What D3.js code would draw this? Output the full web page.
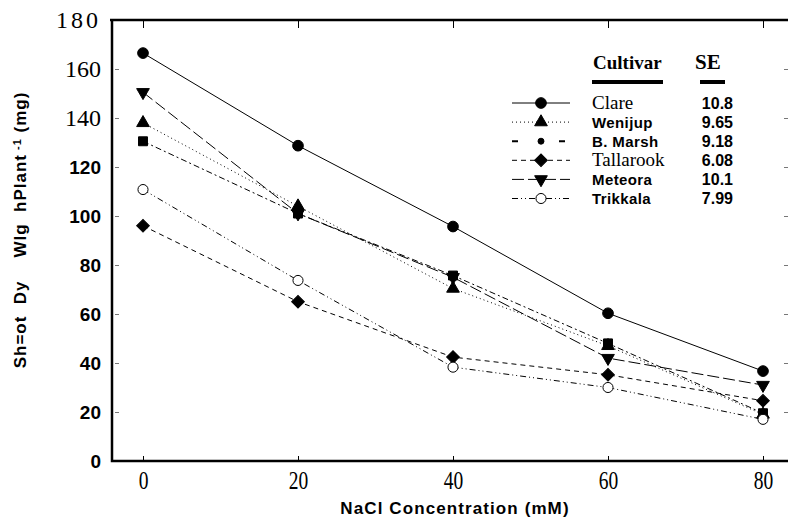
<!DOCTYPE html>
<html>
<head>
<meta charset="utf-8">
<script src="https://cdn.jsdelivr.net/npm/d3@7"></script>
<style>
  body { margin: 0; background: #fff; }
  svg { display: block; }
</style>
</head>
<body>
<script>
(function () {

    //chart data
    var nacl = [0, 20, 40, 60, 80]; //NaCl concentration (mM)
    var cultivars = ["Clare", "Wenijup", "B. Marsh", "Tallarook", "Meteora", "Trikkala"];
    var seValues = ["10.8", "9.65", "9.18", "6.08", "10.1", "7.99"];
    var clare = [166.5, 128.7, 95.7, 60.3, 36.7];
    var wenijup = [138, 104, 70.4, 47, 19];
    var bMarsh = [130.5, 101, 75.7, 48, 19.5];
    var tallarook = [96, 65, 42.4, 35.2, 24.6];
    var meteora = [150.5, 101, 75, 42, 31];
    var trikkala = [110.8, 73.7, 38.3, 30, 17];
    var yTicks = [0, 20, 40, 60, 80, 100, 120, 140, 160, 180];
    var serifTicks = [140, 160, 180]; //these labels are set in a serif face

    var seriesValues = [clare, wenijup, bMarsh, tallarook, meteora, trikkala];

    //frame dimensions
    var width = 788,
        height = 523;

    var svg = d3.select("body")
        .append("svg")
        .attr("width", width)
        .attr("height", height);

    //scales
    var x = d3.scaleLinear()
        .domain([0, 80])
        .range([143, 763]);

    var y = d3.scaleLinear()
        .domain([0, 180])
        .range([461, 20]);

    var left = 112, right = 790;

    //line styles and marker per cultivar
    var dashes = ["none", "1,3", "6,3,2,3", "5,4", "12,4", "6,3,1,3,1,3"];
    var symbols = [
        { type: d3.symbolCircle, size: 90, rot: 0, fill: "#000" },
        { type: d3.symbolTriangle, size: 70, rot: 0, fill: "#000" },
        { type: d3.symbolSquare, size: 80, rot: 0, fill: "#000" },
        { type: d3.symbolSquare, size: 80, rot: 45, fill: "#000" },
        { type: d3.symbolTriangle, size: 70, rot: 180, fill: "#000" },
        { type: d3.symbolCircle, size: 80, rot: 0, fill: "#fff" }
    ];
    //the key of the original shows a small dot for B. Marsh
    var keySymbols = symbols.slice();
    keySymbols[2] = { type: d3.symbolCircle, size: 28, rot: 0, fill: "#000" };
    var keyDashes = dashes.slice();
    keyDashes[2] = "6,41,6";

    var series = cultivars.map(function (name, i) {
        return {
            name: name,
            se: seValues[i],
            values: seriesValues[i].map(function (v, j) { return { x: nacl[j], y: v }; }),
            dash: dashes[i],
            sym: symbols[i],
            keySym: keySymbols[i],
            keyDash: keyDashes[i]
        };
    });

    //axes: left, bottom, top, right
    var yAxis = d3.axisLeft(y)
        .tickValues(yTicks)
        .tickSize(-4)
        .tickPadding(11)
        .tickFormat(d3.format("d"));

    var gy = svg.append("g")
        .attr("transform", "translate(" + left + ",0)")
        .call(yAxis);

    gy.select(".domain").remove();
    gy.selectAll(".tick line").attr("stroke", "#777").attr("transform", "translate(3,0)");
    gy.selectAll(".tick text")
        .attr("fill", "#000")
        .style("font-family", function (d) {
            return serifTicks.indexOf(d) >= 0 ? "'Liberation Serif', 'Times New Roman', serif" : "'Liberation Sans', Arial, sans-serif";
        })
        .style("font-weight", function (d) { return serifTicks.indexOf(d) >= 0 ? "normal" : "bold"; })
        .style("font-size", function (d) { return serifTicks.indexOf(d) >= 0 ? "24px" : "19px"; })
        .style("letter-spacing", function (d) { return d === 180 ? "3px" : "0px"; });

    var xAxis = d3.axisBottom(x)
        .tickValues(nacl)
        .tickSize(-5)
        .tickPadding(10)
        .tickFormat(d3.format("d"));

    var gx = svg.append("g")
        .attr("transform", "translate(0," + y(0) + ")")
        .call(xAxis);

    gx.select(".domain").remove();
    gx.selectAll(".tick line").attr("stroke", "#000");
    gx.selectAll(".tick text")
        .attr("fill", "#000")
        .attr("transform", "scale(0.78,1)")
        .style("font-family", "'Liberation Serif', 'Times New Roman', serif")
        .style("font-size", "25px");

    //top and right inner ticks
    svg.append("g")
        .attr("transform", "translate(0," + y(180) + ")")
        .call(d3.axisTop(x).tickValues(nacl).tickSize(-8).tickFormat(""))
        .call(function (g) { g.select(".domain").remove(); });

    svg.append("g")
        .attr("transform", "translate(" + (right - 2) + ",0)")
        .call(d3.axisRight(y).tickValues(yTicks).tickSize(-4).tickFormat(""))
        .call(function (g) {
            g.select(".domain").remove();
            g.selectAll("line").attr("stroke", "#777");
        });

    //frame
    svg.append("path")
        .attr("d", "M" + left + "," + y(180) + "V" + y(0) + "H" + right)
        .attr("fill", "none")
        .attr("stroke", "#000")
        .attr("stroke-width", 2.5);

    svg.append("line")
        .attr("x1", left - 2).attr("x2", right)
        .attr("y1", y(180)).attr("y2", y(180))
        .attr("stroke", "#000")
        .attr("stroke-width", 2.5);

    //series lines
    var line = d3.line()
        .x(function (d) { return x(d.x); })
        .y(function (d) { return y(d.y); });

    svg.selectAll(".series")
        .data(series)
        .enter()
        .append("path")
        .attr("class", "series")
        .attr("d", function (d) { return line(d.values); })
        .attr("fill", "none")
        .attr("stroke", "#000")
        .attr("stroke-width", 1)
        .attr("stroke-dasharray", function (d) { return d.dash; });

    //markers
    function symbolPath(s) {
        return d3.symbol().type(s.type).size(s.size)();
    }

    series.forEach(function (s) {
        svg.selectAll(null)
            .data(s.values)
            .enter()
            .append("path")
            .attr("d", symbolPath(s.sym))
            .attr("transform", function (d) {
                return "translate(" + x(d.x) + "," + y(d.y) + ") rotate(" + s.sym.rot + ")";
            })
            .attr("fill", s.sym.fill)
            .attr("stroke", "#000")
            .attr("stroke-width", 1);
    });

    //legend
    var legend = svg.append("g").attr("class", "legend");

    legend.append("text")
        .attr("x", 593).attr("y", 69)
        .style("font-family", "'Liberation Serif', 'Times New Roman', serif")
        .style("font-weight", "bold")
        .style("font-size", "19px")
        .text("Cultivar");

    legend.append("text")
        .attr("x", 695).attr("y", 69)
        .style("font-family", "'Liberation Serif', 'Times New Roman', serif")
        .style("font-weight", "bold")
        .style("font-size", "21px")
        .text("SE");

    legend.append("rect").attr("x", 592).attr("y", 80).attr("width", 71).attr("height", 4);
    legend.append("rect").attr("x", 700).attr("y", 80).attr("width", 25).attr("height", 4);

    var serifNames = ["Clare", "Tallarook"];

    var rows = legend.selectAll(".row")
        .data(series)
        .enter()
        .append("g")
        .attr("class", "row")
        .attr("transform", function (d, i) { return "translate(0," + (103 + i * 19.1) + ")"; });

    rows.append("line")
        .attr("x1", 512).attr("x2", 570)
        .attr("stroke", "#000")
        .attr("stroke-width", function (d) { return d.name === "B. Marsh" ? 2 : 1; })
        .attr("stroke-dasharray", function (d) { return d.keyDash; });

    rows.append("path")
        .attr("d", function (d) { return symbolPath(d.keySym); })
        .attr("transform", function (d) { return "translate(541,0) rotate(" + d.keySym.rot + ")"; })
        .attr("fill", function (d) { return d.keySym.fill; })
        .attr("stroke", "#000");

    rows.append("text")
        .attr("x", 592)
        .attr("y", 5.5)
        .style("font-family", function (d) {
            return serifNames.indexOf(d.name) >= 0 ? "'Liberation Serif', 'Times New Roman', serif" : "'Liberation Sans', Arial, sans-serif";
        })
        .style("font-weight", function (d) { return serifNames.indexOf(d.name) >= 0 ? "normal" : "bold"; })
        .style("font-size", function (d) { return serifNames.indexOf(d.name) >= 0 ? "19px" : "15px"; })
        .style("letter-spacing", function (d) { return serifNames.indexOf(d.name) >= 0 ? "0px" : "0.4px"; })
        .text(function (d) { return d.name; });

    rows.append("text")
        .attr("x", 733)
        .attr("y", 5.5)
        .attr("text-anchor", "end")
        .style("font-family", "'Liberation Sans', Arial, sans-serif")
        .style("font-weight", "bold")
        .style("font-size", "16px")
        .text(function (d) { return d.se; });

    //axis titles
    svg.append("text")
        .attr("x", 455).attr("y", 514)
        .attr("text-anchor", "middle")
        .style("font-family", "'Liberation Sans', Arial, sans-serif")
        .style("font-weight", "bold")
        .style("font-size", "17px")
        .style("letter-spacing", "1.1px")
        .text("NaCl Concentration (mM)");

    var yTitle = svg.append("text")
        .attr("transform", "translate(26,230) rotate(-90)")
        .attr("text-anchor", "middle")
        .style("font-family", "'Liberation Sans', Arial, sans-serif")
        .style("font-weight", "bold")
        .style("font-size", "17px")
        .style("letter-spacing", "1px");

    yTitle.append("tspan").text("Sh=ot\u00a0 Dy\u00a0\u00a0\u00a0 Wlg\u00a0 hPlant");
    yTitle.append("tspan").attr("dy", -5).style("font-size", "11px").text(" -1");
    yTitle.append("tspan").attr("dy", 5).text(" (mg)");

})();
</script>
</body>
</html>
